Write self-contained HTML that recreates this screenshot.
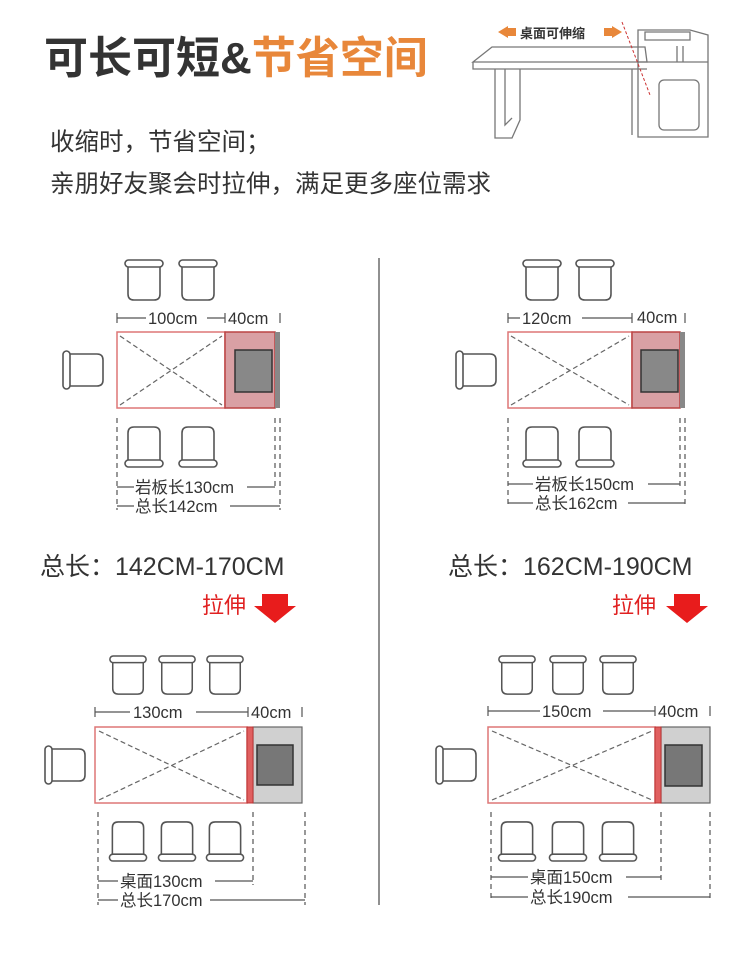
<!DOCTYPE html>
<html><head><meta charset="utf-8"><style>
html,body{margin:0;padding:0;background:#fff;}
svg{display:block;font-family:"Liberation Sans","Noto Sans CJK SC",sans-serif;}
</style></head><body>
<svg width="750" height="953" viewBox="0 0 750 953" xmlns="http://www.w3.org/2000/svg">
<defs>
<symbol id="cT" viewBox="0 0 40 43"><g fill="#fff" stroke="#555" stroke-width="1.6"><path d="M4,6 L4,35 Q4,41 10,41 L30,41 Q36,41 36,35 L36,6"/><rect x="1" y="1" width="38" height="7" rx="3.5"/></g></symbol>
<symbol id="cB" viewBox="0 0 40 43"><g fill="#fff" stroke="#555" stroke-width="1.6"><path d="M4,37 L4,8 Q4,2 10,2 L30,2 Q36,2 36,8 L36,37"/><rect x="1" y="35" width="38" height="7" rx="3.5"/></g></symbol>
<symbol id="cL" viewBox="0 0 43 40"><g fill="#fff" stroke="#555" stroke-width="1.6"><path d="M6,4 L35,4 Q41,4 41,10 L41,30 Q41,36 35,36 L6,36"/><rect x="1" y="1" width="7" height="38" rx="3.5"/></g></symbol>
</defs>

<!-- title -->
<text x="44" y="73" font-size="44" font-weight="bold" fill="#333">可长可短&amp;<tspan fill="#e8873a">节省空间</tspan></text>
<text x="50" y="150" font-size="24.5" fill="#333">收缩时，节省空间；</text>
<text x="50" y="192" font-size="24.5" fill="#333">亲朋好友聚会时拉伸，满足更多座位需求</text>

<!-- desk illustration -->
<g fill="none" stroke="#777" stroke-width="1.3">
<path d="M473,62 L492,47 L645,47 L647,62 Z"/><path d="M473,62 L473,69 L647,69"/>
<path d="M495,69 L495,138 L512,138 L520,120 L520,69"/><path d="M505,69 L505,125 L512,118"/>
<path d="M638,35 L638,137 L708,137 L708,35 L690,30 L638,30 Z"/><path d="M645,32 L690,32 L690,40 L645,40 Z"/>
<path d="M638,62 L708,62"/><path d="M677,46 L677,62 M683,46 L683,62"/>
<rect x="659" y="80" width="40" height="50" rx="5"/><path d="M632,69 L632,135"/>
</g>
<path d="M622,22 L650,95" stroke="#c33" stroke-width="1" stroke-dasharray="3,2"/>
<path d="M498,32 L508,26 L508,38 Z M516,28 L508,28 L508,36 L516,36 Z" fill="#e8873a"/>
<path d="M622,32 L612,26 L612,38 Z M604,28 L612,28 L612,36 L604,36 Z" fill="#e8873a"/>
<text x="520" y="38" font-size="13" font-weight="bold" fill="#333">桌面可伸缩</text>

<!-- divider -->
<line x1="379" y1="258" x2="379" y2="905" stroke="#555" stroke-width="1.3"/>

<!-- ===== Top-left ===== -->
<use href="#cT" x="124" y="259" width="40" height="43"/><use href="#cT" x="178" y="259" width="40" height="43"/>
<use href="#cL" x="62" y="350" width="43" height="40"/>
<use href="#cB" x="124" y="425" width="40" height="43"/><use href="#cB" x="178" y="425" width="40" height="43"/>
<rect x="117" y="332" width="108" height="76" fill="#fff" stroke="#d77" stroke-width="1.5"/>
<path d="M120,336 L222,405 M120,405 L222,336" stroke="#666" stroke-width="1.2" stroke-dasharray="5,3"/>
<rect x="225" y="332" width="50" height="76" fill="#d9a0a4" stroke="#b44" stroke-width="1.5"/>
<rect x="275" y="332" width="5" height="76" fill="#888"/>
<rect x="235" y="350" width="37" height="42" fill="#888" stroke="#333" stroke-width="1.5"/>
<g stroke="#555" stroke-width="1.2">
<path d="M117,318 L146,318 M207,318 L225,318 M117,313 L117,323 M225,313 L225,323 M280,313 L280,323"/>
<path d="M117,487 L134,487 M247,487 L275,487 M117,506 L134,506 M230,506 L280,506"/>
</g>
<g stroke="#555" stroke-width="1.2" stroke-dasharray="5,4"><path d="M117,418 L117,510 M275,418 L275,490 M280,418 L280,510"/></g>
<text x="148" y="324" font-size="16.5" fill="#333">100cm</text><text x="228" y="324" font-size="16.5" fill="#333">40cm</text>
<text x="135" y="493" font-size="16.5" fill="#333">岩板长130cm</text><text x="135" y="512" font-size="16.5" fill="#333">总长142cm</text>

<!-- ===== Top-right ===== -->
<use href="#cT" x="522" y="259" width="40" height="43"/><use href="#cT" x="575" y="259" width="40" height="43"/>
<use href="#cL" x="455" y="350" width="43" height="40"/>
<use href="#cB" x="522" y="425" width="40" height="43"/><use href="#cB" x="575" y="425" width="40" height="43"/>
<rect x="508" y="332" width="124" height="76" fill="#fff" stroke="#d77" stroke-width="1.5"/>
<path d="M511,336 L629,405 M511,405 L629,336" stroke="#666" stroke-width="1.2" stroke-dasharray="5,3"/>
<rect x="632" y="332" width="48" height="76" fill="#d9a0a4" stroke="#b44" stroke-width="1.5"/>
<rect x="680" y="332" width="5" height="76" fill="#888"/>
<rect x="641" y="350" width="37" height="42" fill="#888" stroke="#333" stroke-width="1.5"/>
<g stroke="#555" stroke-width="1.2">
<path d="M508,318 L520,318 M582,318 L632,318 M508,313 L508,323 M632,313 L632,323 M685,313 L685,323"/>
<path d="M508,484 L533,484 M648,484 L680,484 M508,503 L533,503 M628,503 L685,503"/>
</g>
<g stroke="#555" stroke-width="1.2" stroke-dasharray="5,4"><path d="M508,418 L508,508 M680,418 L680,488 M685,418 L685,508"/></g>
<text x="522" y="324" font-size="16.5" fill="#333">120cm</text><text x="637" y="323" font-size="16.5" fill="#333">40cm</text>
<text x="535" y="490" font-size="16.5" fill="#333">岩板长150cm</text><text x="535" y="509" font-size="16.5" fill="#333">总长162cm</text>

<!-- middle labels -->
<text x="40" y="575" font-size="25" fill="#333">总长：142CM-170CM</text>
<text x="448" y="575" font-size="25" fill="#333">总长：162CM-190CM</text>
<text x="202" y="613" font-size="22" fill="#e02020">拉伸</text>
<text x="612" y="613" font-size="22" fill="#e02020">拉伸</text>
<path d="M262,594 L288,594 L288,606 L296,606 L275,623 L254,606 L262,606 Z" fill="#e81c1c"/>
<path d="M674,594 L700,594 L700,606 L708,606 L687,623 L666,606 L674,606 Z" fill="#e81c1c"/>

<!-- ===== Bottom-left ===== -->
<use href="#cT" x="108" y="655" width="40" height="41"/><use href="#cT" x="157" y="655" width="40" height="41"/><use href="#cT" x="205" y="655" width="40" height="41"/>
<use href="#cL" x="44" y="745" width="43" height="40"/>
<use href="#cB" x="108" y="820" width="40" height="42"/><use href="#cB" x="157" y="820" width="40" height="42"/><use href="#cB" x="205" y="820" width="40" height="42"/>
<rect x="95" y="727" width="152" height="76" fill="#fff" stroke="#d77" stroke-width="1.5"/>
<path d="M99,731 L244,800 M99,800 L244,731" stroke="#666" stroke-width="1.2" stroke-dasharray="5,3"/>
<rect x="253" y="727" width="49" height="76" fill="#d0d0d0" stroke="#666" stroke-width="1.2"/>
<rect x="247" y="727" width="6" height="76" fill="#e06060" stroke="#b33" stroke-width="1"/>
<rect x="257" y="745" width="36" height="40" fill="#777" stroke="#333" stroke-width="1.5"/>
<g stroke="#555" stroke-width="1.2">
<path d="M95,712 L130,712 M196,712 L248,712 M95,707 L95,717 M248,707 L248,717 M302,707 L302,717"/>
<path d="M98,881 L118,881 M215,881 L253,881 M98,900 L118,900 M210,900 L305,900"/>
</g>
<g stroke="#555" stroke-width="1.2" stroke-dasharray="5,4"><path d="M98,812 L98,905 M253,812 L253,885 M305,812 L305,905"/></g>
<text x="133" y="718" font-size="16.5" fill="#333">130cm</text><text x="251" y="718" font-size="16.5" fill="#333">40cm</text>
<text x="120" y="887" font-size="16.5" fill="#333">桌面130cm</text><text x="120" y="906" font-size="16.5" fill="#333">总长170cm</text>

<!-- ===== Bottom-right ===== -->
<use href="#cT" x="497" y="655" width="40" height="41"/><use href="#cT" x="548" y="655" width="40" height="41"/><use href="#cT" x="598" y="655" width="40" height="41"/>
<use href="#cL" x="435" y="745" width="43" height="40"/>
<use href="#cB" x="497" y="820" width="40" height="42"/><use href="#cB" x="548" y="820" width="40" height="42"/><use href="#cB" x="598" y="820" width="40" height="42"/>
<rect x="488" y="727" width="167" height="76" fill="#fff" stroke="#d77" stroke-width="1.5"/>
<path d="M492,731 L652,800 M492,800 L652,731" stroke="#666" stroke-width="1.2" stroke-dasharray="5,3"/>
<rect x="661" y="727" width="49" height="76" fill="#d0d0d0" stroke="#666" stroke-width="1.2"/>
<rect x="655" y="727" width="6" height="76" fill="#e06060" stroke="#b33" stroke-width="1"/>
<rect x="665" y="745" width="37" height="41" fill="#777" stroke="#333" stroke-width="1.5"/>
<g stroke="#555" stroke-width="1.2">
<path d="M488,711 L540,711 M603,711 L655,711 M488,706 L488,716 M655,706 L655,716 M710,706 L710,716"/>
<path d="M491,877 L528,877 M626,877 L661,877 M491,897 L528,897 M628,897 L710,897"/>
</g>
<g stroke="#555" stroke-width="1.2" stroke-dasharray="5,4"><path d="M491,812 L491,902 M661,812 L661,881 M710,812 L710,902"/></g>
<text x="542" y="717" font-size="16.5" fill="#333">150cm</text><text x="658" y="717" font-size="16.5" fill="#333">40cm</text>
<text x="530" y="883" font-size="16.5" fill="#333">桌面150cm</text><text x="530" y="903" font-size="16.5" fill="#333">总长190cm</text>
</svg>
</body></html>
